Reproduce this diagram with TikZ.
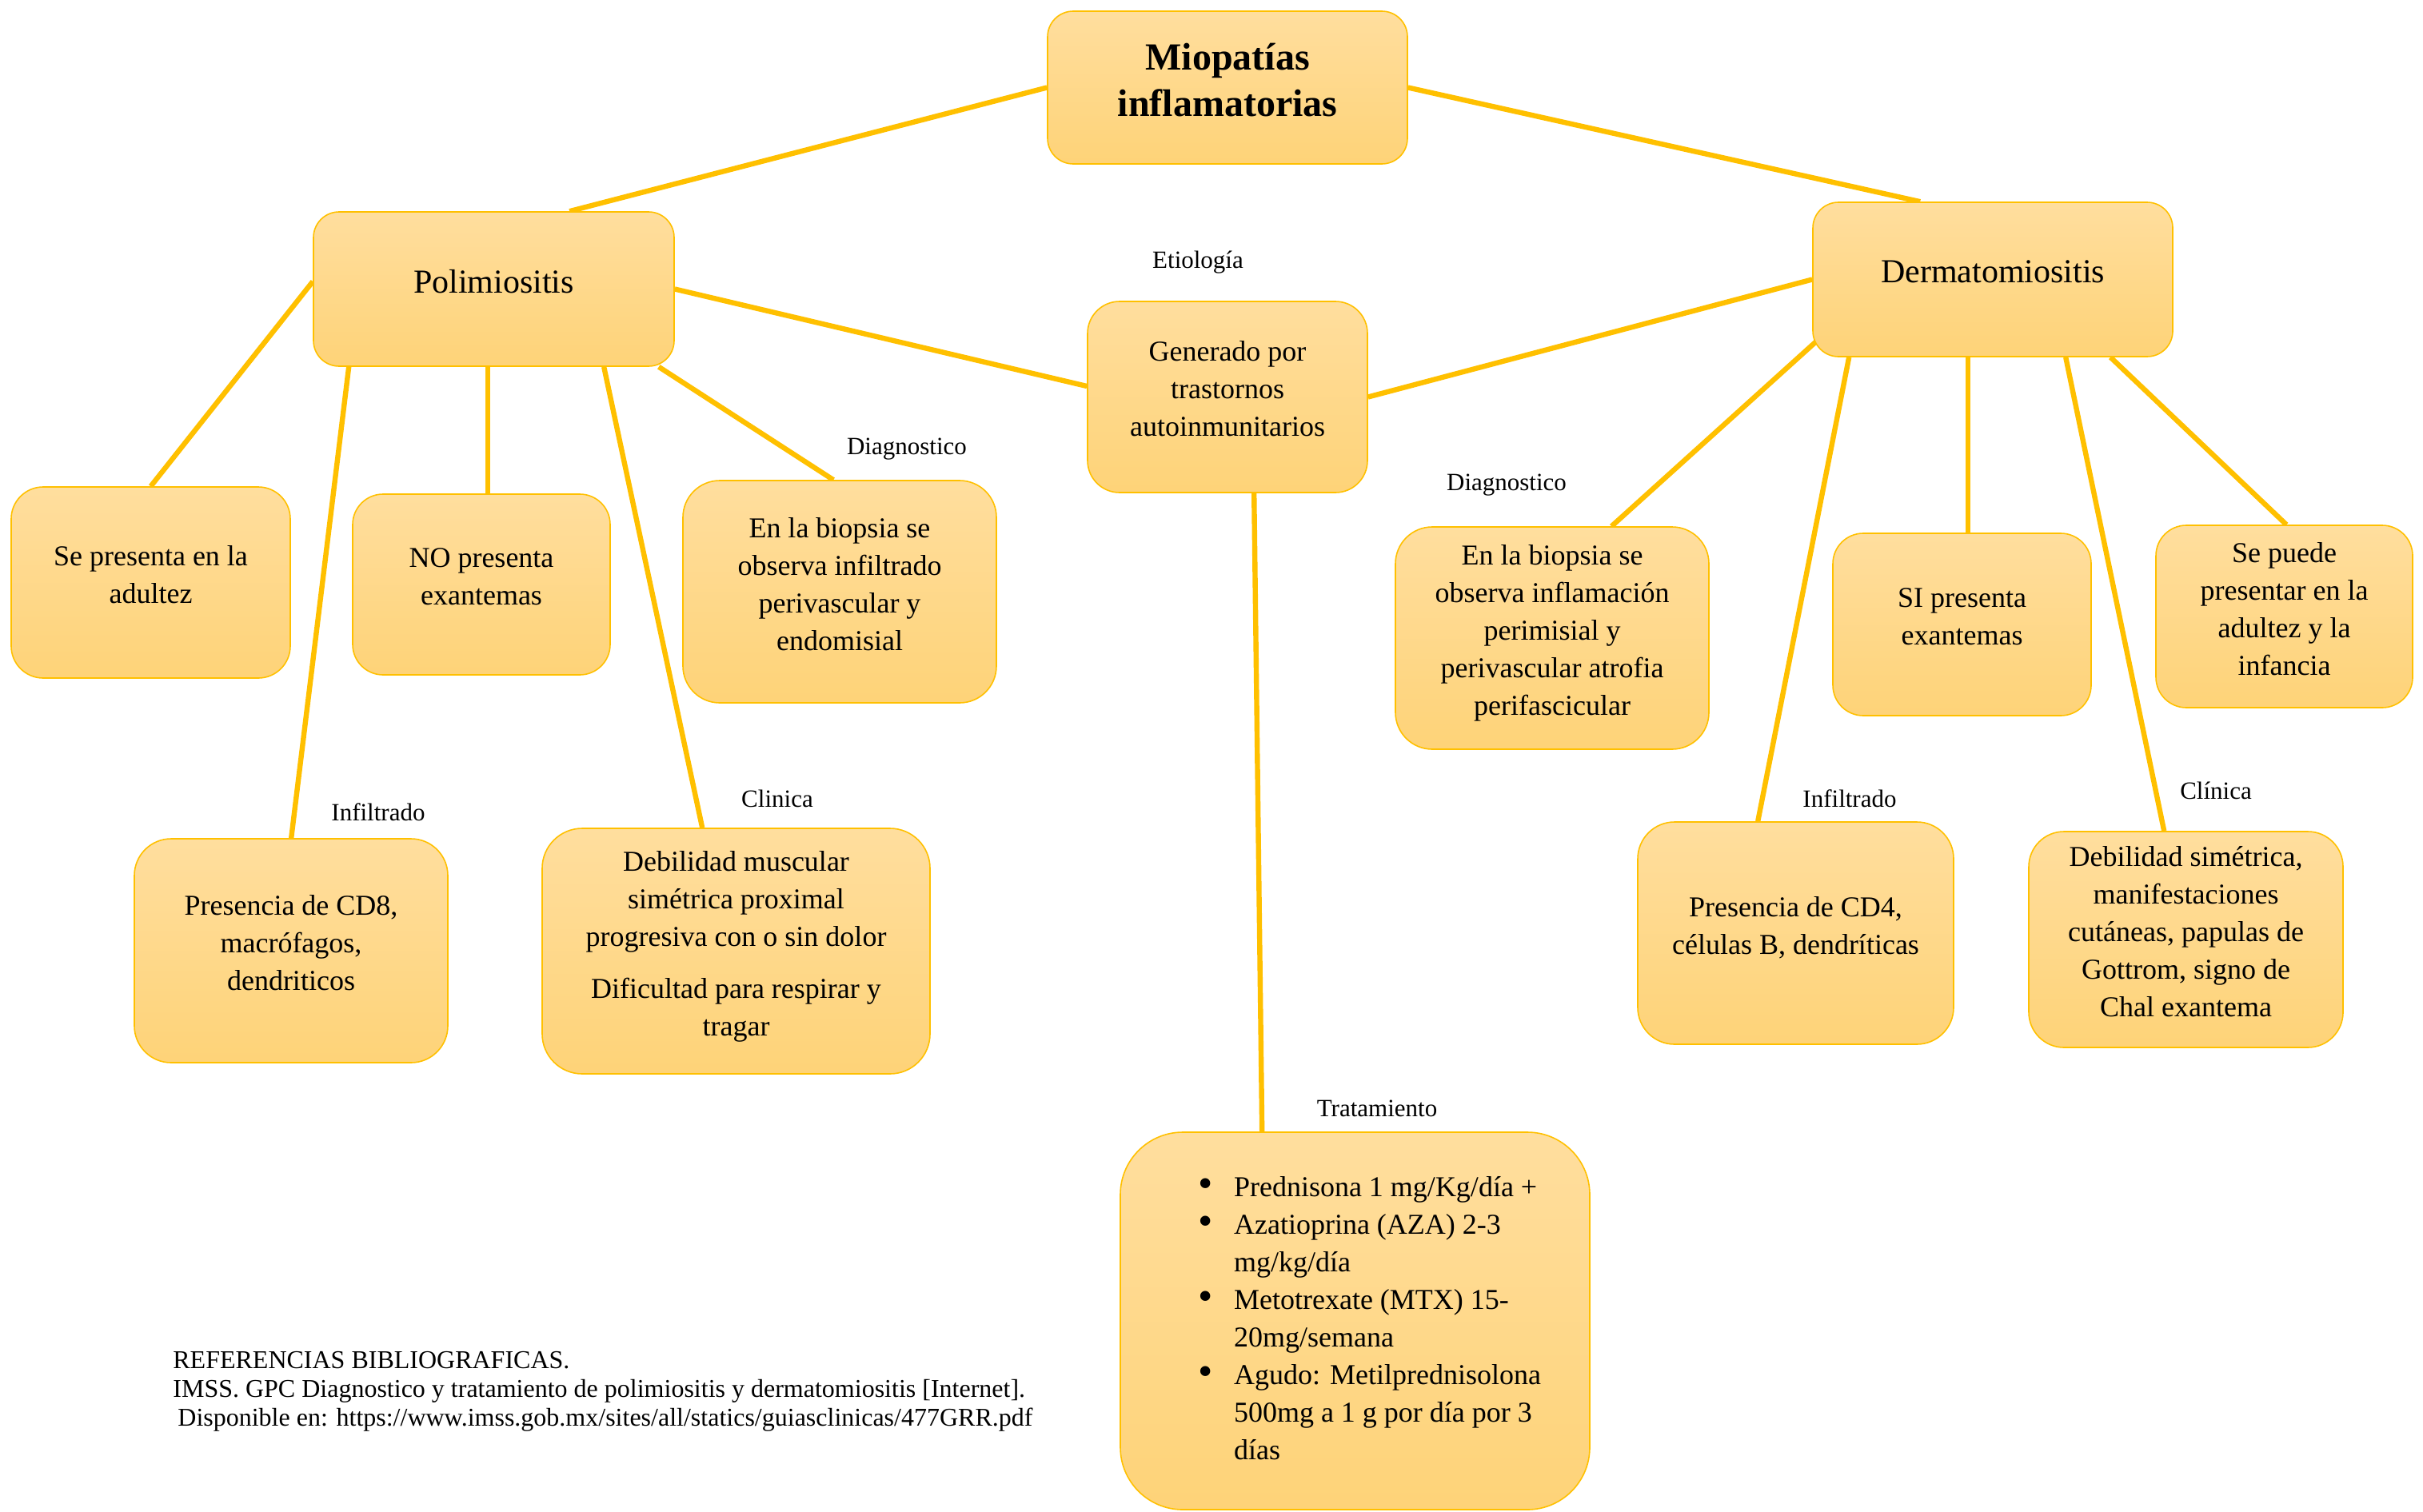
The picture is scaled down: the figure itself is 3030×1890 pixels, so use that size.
\documentclass[tikz,border=0pt]{standalone}
\usepackage{fontspec}
\setmainfont{Liberation Serif}
\usetikzlibrary{calc}
\pgfdeclarelayer{paper}
\pgfdeclarelayer{background}
\pgfsetlayers{paper,background,main}
\definecolor{cTop}{HTML}{FFDE9E}
\definecolor{cBot}{HTML}{FED378}
\definecolor{cLine}{HTML}{FFC000}
\tikzset{
  box/.style={draw=cLine, line width=0.8pt, top color=cTop, bottom color=cBot,
    align=center, inner sep=2pt, font=\fontsize{18}{23.5}\selectfont,
    execute at end node={\rule[-10pt]{0pt}{10pt}}},
  conn/.style={draw=cLine, line width=3.2pt},
  lbl/.style={font=\fontsize{15.5}{18}\selectfont, inner sep=0pt},
}
\newcommand{\bigbul}{\raisebox{-0.5pt}{\scalebox{1.45}{\textbullet}}}
\begin{document}
\begin{tikzpicture}[x=0.5pt,y=-0.5pt]
\begin{pgfonlayer}{paper}
\fill[white] (0,0) rectangle (3030,1890);
\end{pgfonlayer}
\useasboundingbox (0,0) rectangle (3030,1890);

% main nodes
\node[box, minimum width=225pt, minimum height=95.5pt, rounded corners=16pt,
  font=\fontsize{24}{29}\selectfont\bfseries] (title) at (1535,109.5) {Miopatías\\inflamatorias};
\node[box, minimum width=225.5pt, minimum height=96.5pt, rounded corners=16pt,
  font=\fontsize{21}{25}\selectfont] (poli) at (617.5,361.5) {Polimiositis};
\node[box, minimum width=225pt, minimum height=96.5pt, rounded corners=16pt,
  font=\fontsize{21}{25}\selectfont] (derma) at (2492,349.5) {Dermatomiositis};
\node[box, minimum width=175pt, minimum height=119.5pt, rounded corners=20pt] (gen) at (1535,496.5)
  {Generado por\\trastornos\\autoinmunitarios};

% polimiositis children
\node[box, minimum width=174.5pt, minimum height=119.5pt, rounded corners=20pt] (sep) at (188.5,728.5)
  {Se presenta en la\\adultez};
\node[box, minimum width=161pt, minimum height=113pt, rounded corners=19pt] (nop) at (602,731)
  {NO presenta\\exantemas};
\node[box, minimum width=196pt, minimum height=139pt, rounded corners=23pt] (pdiag) at (1050,740)
  {En la biopsia se\\observa infiltrado\\perivascular y\\endomisial};
\node[box, minimum width=196pt, minimum height=140pt, rounded corners=23pt] (cd8) at (364,1189)
  {Presencia de CD8,\\macrófagos,\\dendriticos};
\node[box, minimum width=242.5pt, minimum height=153.5pt, rounded corners=25pt,
  execute at end node={\rule[-4pt]{0pt}{4pt}}] (deb) at (920.5,1189.5)
  {Debilidad muscular\\simétrica proximal\\progresiva con o sin dolor\\[9pt]Dificultad para respirar y\\tragar};

% treatment
\node[box, minimum width=293.5pt, minimum height=236pt, rounded corners=39pt, align=left,
  execute at end node={}] (trat) at (1694.5,1652)
  {\begin{tabular}{@{\hspace{18pt}}p{22.5pt}@{}l@{}}
   \bigbul & Prednisona 1 mg/Kg/día +\\
   \bigbul & Azatioprina (AZA) 2-3\\
               & mg/kg/día\\
   \bigbul & Metotrexate (MTX) 15-\\
               & 20mg/semana\\
   \bigbul & Agudo: Metilprednisolona\\
               & 500mg a 1 g por día por 3\\
               & días
   \end{tabular}};

% dermatomiositis children
\node[box, minimum width=196pt, minimum height=139pt, rounded corners=23pt,
  execute at end node={\rule[-4pt]{0pt}{4pt}}] (ddiag) at (1941,798)
  {En la biopsia se\\observa inflamación\\perimisial y\\perivascular atrofia\\perifascicular};
\node[box, minimum width=161.5pt, minimum height=114pt, rounded corners=19pt] (sip) at (2453.5,781)
  {SI presenta\\exantemas};
\node[box, minimum width=160.5pt, minimum height=114pt, rounded corners=19pt,
  execute at end node={}] (spp) at (2856.5,771)
  {Se puede\\presentar en la\\adultez y la\\infancia};
\node[box, minimum width=197.5pt, minimum height=139pt, rounded corners=23pt] (cd4) at (2245.5,1167)
  {Presencia de CD4,\\células B, dendríticas};
\node[box, minimum width=196.5pt, minimum height=135pt, rounded corners=22pt,
  execute at end node={}] (dsim) at (2733.5,1175)
  {Debilidad simétrica,\\manifestaciones\\cutáneas, papulas de\\Gottrom, signo de\\Chal exantema};

% labels
\node[lbl] (lEtio) at (1498,328) {Etiología};
\node[lbl] (lDiag1) at (1134,562) {Diagnostico};
\node[lbl] (lDiag2) at (1884,607) {Diagnostico};
\node[lbl] (lInf1) at (473,1016) {Infiltrado};
\node[lbl] (lCli1) at (972,999) {Clinica};
\node[lbl] (lInf2) at (2313,999) {Infiltrado};
\node[lbl] (lCli2) at (2771,989) {Clínica};
\node[lbl] (lTrat) at (1722,1386) {Tratamiento};

% references
\node[anchor=west, align=left, inner sep=0pt, font=\fontsize{16}{18}\selectfont] (refs) at (216,1740)
  {REFERENCIAS BIBLIOGRAFICAS.\\
   IMSS. GPC Diagnostico y tratamiento de polimiositis y dermatomiositis [Internet].\\
   \hspace*{3pt}Disponible en: https://www.imss.gob.mx/sites/all/statics/guiasclinicas/477GRR.pdf};

% connectors
\begin{pgfonlayer}{background}
\draw[conn] (title.west) -- ([xshift=160.5pt]poli.north west);
\draw[conn] (title.east) -- ([xshift=67.5pt]derma.north west);
\draw[conn] (poli.east) -- ([yshift=6.75pt]gen.west);
\draw[conn] (derma.west) -- (gen.east);
\draw[conn] ([yshift=4.75pt]poli.west) -- (sep.north);
\draw[conn] ([xshift=109.5pt]poli.south west) coordinate (pn) -- (pn |- nop.north);
\draw[conn] ([xshift=-10pt]poli.south east) -- ([xshift=94.5pt]pdiag.north west);
\draw[conn] ([xshift=22.5pt]poli.south west) -- ([xshift=98.5pt]cd8.north west);
\draw[conn] ([xshift=182pt]poli.south west) -- ([xshift=100.5pt]deb.north west);
\draw[conn] ([xshift=104.5pt]gen.south west) -- ([xshift=89pt]trat.north west);
\draw[conn] ([xshift=6.5pt,yshift=13.5pt]derma.south west) -- ([xshift=135.5pt]ddiag.north west);
\draw[conn] ([xshift=23pt]derma.south west) -- ([xshift=75.5pt]cd4.north west);
\draw[conn] ([xshift=97.5pt]derma.south west) coordinate (dn) -- (dn |- sip.north);
\draw[conn] ([xshift=158.5pt]derma.south west) -- ([xshift=85pt]dsim.north west);
\draw[conn] ([xshift=186.5pt]derma.south west) -- ([xshift=82pt]spp.north west);
\end{pgfonlayer}
\end{tikzpicture}
\end{document}
